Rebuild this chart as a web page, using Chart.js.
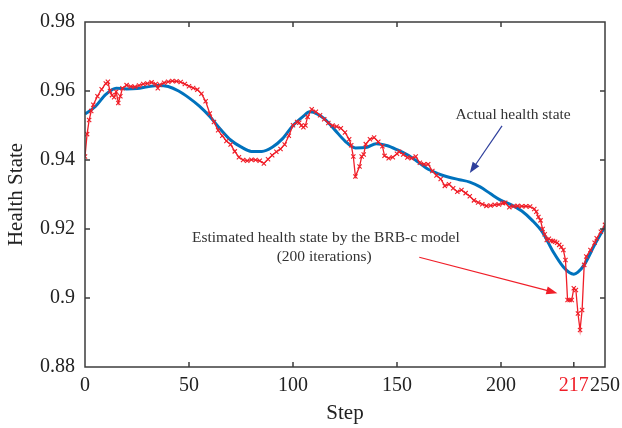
<!DOCTYPE html>
<html>
<head>
<meta charset="utf-8">
<script src="https://cdn.jsdelivr.net/npm/chart.js@4.4.1/dist/chart.umd.min.js"></script>
<style>
  html, body { margin: 0; padding: 0; background: #fff; }
  #wrap { width: 622px; height: 428px; }
</style>
</head>
<body>
<div id="wrap"><canvas id="healthChart"></canvas></div>
<script>
// actual health state (read every ~5 steps)
var actualSteps = [0, 5, 10, 15, 20, 25, 30, 35, 40, 45, 50, 55, 60, 65, 70, 75, 80, 85, 90, 95,
    100, 105, 108, 110, 115, 120, 125, 130, 135, 140, 145, 150, 155, 160, 165, 170, 175, 180, 185, 190,
    195, 200, 205, 210, 215, 220, 225, 230, 233, 235, 237, 240, 245, 250];
var actualValues = [0.9533, 0.9555, 0.9590, 0.9608, 0.9606, 0.9607, 0.9612, 0.9616, 0.9613, 0.9600,
    0.9580, 0.9556, 0.9526, 0.9490, 0.9458, 0.9438, 0.9425, 0.9425, 0.9437, 0.9462,
    0.9500, 0.9527, 0.9540, 0.9538, 0.9520, 0.9488, 0.9455, 0.9435, 0.9436, 0.9447,
    0.9442, 0.9430, 0.9415, 0.9395, 0.9373, 0.9360, 0.9350, 0.9343, 0.9336, 0.9322,
    0.9302, 0.9283, 0.9270, 0.9252, 0.9225, 0.9190, 0.9135, 0.9090, 0.9073, 0.9069,
    0.9075, 0.9096, 0.9154, 0.9207];

// estimated health state by the BRB-c model
var estSteps = [0, 1, 2, 3, 4, 6, 8, 10, 11, 12, 13, 14, 15, 16, 17, 18, 20, 22, 24, 26, 28, 30, 32, 34, 35,
    36, 38, 40, 42, 44, 46, 48, 50, 52, 54, 56, 58, 60, 62, 64, 66, 68, 70, 72, 74, 76, 78, 80, 82, 84,
    86, 88, 90, 92, 94, 96, 98, 100, 102, 103, 104, 105, 106, 107, 109, 111, 113, 115, 117, 119, 121, 123,
    125, 127, 128, 129, 130, 132, 133, 134, 135, 137, 139, 141, 143, 144, 146, 148, 150, 151, 153, 155,
    157, 159, 161, 163, 165, 167, 169, 171, 173, 175, 177, 179, 181, 183, 185, 187, 189, 191, 193, 195,
    197, 199, 201, 202, 204, 206, 208, 210, 212, 214, 216, 217, 218, 219, 220, 221, 222, 223, 224, 225,
    226, 227, 228, 229, 230, 231, 232, 233, 234, 235, 236, 237, 238, 239, 240, 241, 243, 245, 246, 248, 250];
var estValues = [0.9410, 0.9475, 0.9516, 0.9542, 0.9560, 0.9585, 0.9605, 0.9622, 0.9627, 0.9600,
    0.9588, 0.9582, 0.9598, 0.9565, 0.9585, 0.9608, 0.9617, 0.9613, 0.9612, 0.9616,
    0.9620, 0.9622, 0.9625, 0.9620, 0.9608, 0.9618, 0.9624, 0.9627, 0.9629, 0.9628,
    0.9626, 0.9620, 0.9614, 0.9609, 0.9604, 0.9592, 0.9570, 0.9535, 0.9510, 0.9486,
    0.9470, 0.9455, 0.9445, 0.9425, 0.9408, 0.9400, 0.9398, 0.9401, 0.9400, 0.9398,
    0.9390, 0.9402, 0.9414, 0.9424, 0.9432, 0.9445, 0.9470, 0.9501, 0.9510, 0.9508,
    0.9500, 0.9495, 0.9500, 0.9525, 0.9547, 0.9540, 0.9530, 0.9518, 0.9507, 0.9500,
    0.9497, 0.9492, 0.9480, 0.9460, 0.9443, 0.9410, 0.9352, 0.9381, 0.9410, 0.9416,
    0.9446, 0.9460, 0.9465, 0.9453, 0.9440, 0.9412, 0.9405, 0.9408, 0.9418, 0.9424,
    0.9416, 0.9407, 0.9405, 0.9410, 0.9392, 0.9388, 0.9388, 0.9368, 0.9355, 0.9345,
    0.9325, 0.9330, 0.9318, 0.9308, 0.9313, 0.9304, 0.9295, 0.9283, 0.9277, 0.9272,
    0.9267, 0.9268, 0.9270, 0.9271, 0.9275, 0.9276, 0.9263, 0.9266, 0.9267, 0.9266,
    0.9266, 0.9265, 0.9258, 0.9250, 0.9235, 0.9225, 0.9200, 0.9185, 0.9168, 0.9172,
    0.9166, 0.9165, 0.9163, 0.9160, 0.9154, 0.9148, 0.9139, 0.9110, 0.8994, 0.8994,
    0.8994, 0.9028, 0.9023, 0.8955, 0.8907, 0.8965, 0.9096, 0.9120, 0.9139, 0.9160,
    0.9173, 0.9192, 0.9212];

var xTickValues = [0, 50, 100, 150, 200, 235, 250];
var xTickLabels = ['0', '50', '100', '150', '200', '217', '250'];
var yTickValues = [0.88, 0.90, 0.92, 0.94, 0.96, 0.98];
var yTickLabels = ['0.88', '0.9', '0.92', '0.94', '0.96', '0.98'];

var blueColor = 'rgb(0, 114, 189)';
var redColor = 'rgb(240, 30, 40)';
var serif = "'Liberation Serif', 'DejaVu Serif', serif";

function toPoints(xs, ys) {
    return xs.map(function (v, i) { return {x: v, y: ys[i]}; });
}

function arrow(ctx, x1, y1, x2, y2, color) {
    var ang = Math.atan2(y2 - y1, x2 - x1);
    ctx.strokeStyle = color;
    ctx.fillStyle = color;
    ctx.lineWidth = 1.2;
    ctx.beginPath();
    ctx.moveTo(x1, y1);
    ctx.lineTo(x2 - 8 * Math.cos(ang), y2 - 8 * Math.sin(ang));
    ctx.stroke();
    ctx.beginPath();
    ctx.moveTo(x2, y2);
    ctx.lineTo(x2 - 11 * Math.cos(ang) + 4 * Math.sin(ang), y2 - 11 * Math.sin(ang) - 4 * Math.cos(ang));
    ctx.lineTo(x2 - 11 * Math.cos(ang) - 4 * Math.sin(ang), y2 - 11 * Math.sin(ang) + 4 * Math.cos(ang));
    ctx.closePath();
    ctx.fill();
}

// box round the plot with inward ticks, plus the two labels with arrows
var framePlugin = {
    id: 'frame',
    afterDatasetsDraw: function (chart) {
        var ctx = chart.ctx, a = chart.chartArea;
        var x = chart.scales.x, y = chart.scales.y;
        ctx.save();
        ctx.strokeStyle = '#3c3c3c';
        ctx.lineWidth = 1.5;
        ctx.strokeRect(a.left, a.top, a.right - a.left, a.bottom - a.top);
        ctx.beginPath();
        xTickValues.forEach(function (v) {
            if (v === 0 || v === 250) return;
            var px = x.getPixelForValue(v);
            ctx.moveTo(px, a.bottom);
            ctx.lineTo(px, a.bottom - 5);
            if (v !== 235) {
                ctx.moveTo(px, a.top);
                ctx.lineTo(px, a.top + 5);
            }
        });
        yTickValues.forEach(function (v) {
            if (v === 0.88 || v === 0.98) return;
            var py = y.getPixelForValue(v);
            ctx.moveTo(a.left, py);
            ctx.lineTo(a.left + 5, py);
            ctx.moveTo(a.right, py);
            ctx.lineTo(a.right - 5, py);
        });
        ctx.stroke();

        ctx.font = '15.5px ' + serif;
        ctx.fillStyle = '#333';
        ctx.textAlign = 'center';
        ctx.textBaseline = 'middle';
        ctx.fillText('Actual health state', x.getPixelForValue(205.8), y.getPixelForValue(0.9530));
        ctx.fillText('Estimated health state by the BRB-c model', x.getPixelForValue(115.8), y.getPixelForValue(0.9174));
        ctx.fillText('(200 iterations)', x.getPixelForValue(115), y.getPixelForValue(0.9118));

        arrow(ctx, x.getPixelForValue(200.5), y.getPixelForValue(0.9499),
            x.getPixelForValue(185), y.getPixelForValue(0.9362), '#2e3f9c');
        arrow(ctx, x.getPixelForValue(160.7), y.getPixelForValue(0.9118),
            x.getPixelForValue(227.1), y.getPixelForValue(0.9014), redColor);
        ctx.restore();
    }
};

var ctxHealth = document.getElementById('healthChart');

var healthChart = new Chart(ctxHealth, {
    type: 'line',
    data: {
        datasets: [{
            label: 'Estimated health state by the BRB-c model',
            data: toPoints(estSteps, estValues),
            borderColor: redColor,
            backgroundColor: redColor,
            borderWidth: 1.3,
            pointStyle: 'crossRot',
            pointRadius: 3,
            pointBorderWidth: 1.1,
            tension: 0,
            fill: false,
            order: 1
        }, {
            label: 'Actual health state',
            data: toPoints(actualSteps, actualValues),
            borderColor: blueColor,
            backgroundColor: blueColor,
            borderWidth: 3,
            pointRadius: 0,
            cubicInterpolationMode: 'monotone',
            fill: false,
            order: 2
        }]
    },
    options: {
        responsive: true,
        maintainAspectRatio: false,
        animation: false,
        layout: {
            padding: {left: 0, right: 17, top: 22, bottom: 0}
        },
        plugins: {
            legend: {display: false},
            tooltip: {enabled: false}
        },
        scales: {
            x: {
                type: 'linear',
                min: 0,
                max: 250,
                grid: {display: false, drawTicks: false},
                border: {display: false},
                afterBuildTicks: function (scale) {
                    scale.ticks = xTickValues.map(function (v) { return {value: v}; });
                },
                afterFit: function (scale) {
                    scale.height = 61;
                    scale.paddingLeft = 0;
                    scale.paddingRight = 0;
                },
                ticks: {
                    autoSkip: false,
                    maxRotation: 0,
                    padding: 7,
                    font: {family: serif, size: 20},
                    color: function (c) { return c.tick && c.tick.value === 235 ? redColor : '#222'; },
                    callback: function (v) { return xTickLabels[xTickValues.indexOf(v)]; }
                },
                title: {
                    display: true,
                    text: 'Step',
                    font: {family: serif, size: 21},
                    color: '#222',
                    padding: {top: 0, bottom: 2}
                }
            },
            y: {
                min: 0.88,
                max: 0.98,
                grid: {display: false, drawTicks: false},
                border: {display: false},
                afterBuildTicks: function (scale) {
                    scale.ticks = yTickValues.map(function (v) { return {value: v}; });
                },
                afterFit: function (scale) { scale.width = 85; },
                ticks: {
                    padding: 10,
                    font: {family: serif, size: 20},
                    color: '#222',
                    callback: function (v) { return yTickLabels[yTickValues.indexOf(v)]; }
                },
                title: {
                    display: true,
                    text: 'Health State',
                    font: {family: serif, size: 21},
                    color: '#222',
                    padding: {top: 4, bottom: 0}
                }
            }
        }
    },
    plugins: [framePlugin]
});
</script>
</body>
</html>
